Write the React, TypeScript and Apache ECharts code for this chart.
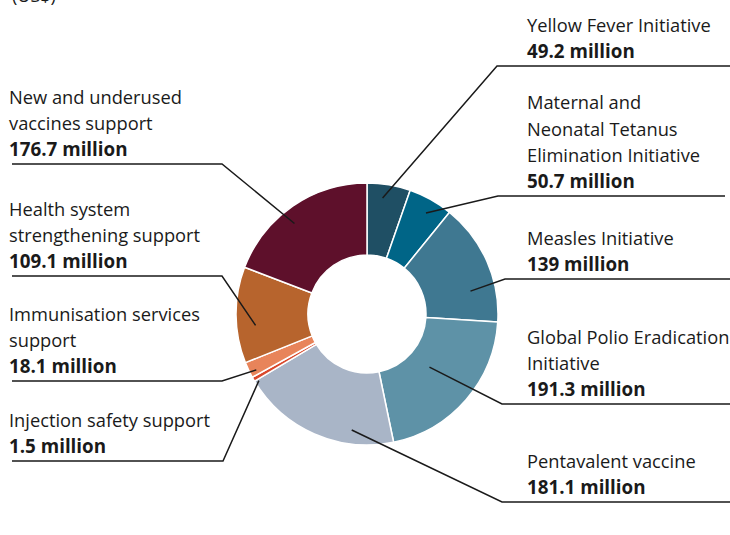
import React, { useEffect, useRef } from "react";
import * as echarts from "echarts";

const categories = [
  "Yellow Fever Initiative",
  "Maternal and\nNeonatal Tetanus\nElimination Initiative",
  "Measles Initiative",
  "Global Polio Eradication\nInitiative",
  "Pentavalent vaccine",
  "Injection safety support",
  "Immunisation services\nsupport",
  "Health system\nstrengthening support",
  "New and underused\nvaccines support",
];
const values = [49.2, 50.7, 139, 191.3, 181.1, 1.5, 18.1, 109.1, 176.7];
const unitLabel = "million";
const unitNote = "(US$)";

const colors = [
  "#1f4f64",
  "#006587",
  "#3f7891",
  "#5e92a7",
  "#a9b5c7",
  "#d9482c",
  "#e8845a",
  "#b7642d",
  "#5e102b",
];

// label layout (positions only)
const labelLayouts = [
  { side: "right", lineY: 66, elbowX: 497, endX: 730, angleOffset: -2, anchorR: 117 },
  { side: "right", lineY: 196, elbowX: 498, endX: 725, angleOffset: 1, anchorR: 117 },
  { side: "right", lineY: 279, elbowX: 505, endX: 730, angleOffset: 11, anchorR: 106 },
  { side: "right", lineY: 404, elbowX: 502, endX: 730, angleOffset: -1, anchorR: 82 },
  { side: "right", lineY: 502, elbowX: 502, endX: 730, angleOffset: -17, anchorR: 117 },
  { side: "left", lineY: 461, elbowX: 223, endX: 12, angleOffset: -2, anchorR: 127 },
  { side: "left", lineY: 381, elbowX: 222, endX: 12, angleOffset: -1, anchorR: 124 },
  { side: "left", lineY: 276, elbowX: 222, endX: 12, angleOffset: -5, anchorR: 112 },
  { side: "left", lineY: 164, elbowX: 222, endX: 12, angleOffset: -4, anchorR: 116 },
];

const CX = 367;
const CY = 314;
const FONT = "'Open Sans'";
const TEXT_COLOR = "#1a1a1a";

export default function App() {
  const ref = useRef<HTMLDivElement>(null);
  useEffect(() => {
    if (!ref.current) return;
    const chart = echarts.init(ref.current, null, { renderer: "svg" });
    const total = values.reduce((a, b) => a + b, 0);
    const cum: number[] = [];
    let acc = 0;
    values.forEach((v) => {
      cum.push(acc + v / 2);
      acc += v;
    });
    const data = categories.map((name, i) => ({
      name,
      value: values[i],
      itemStyle: { color: colors[i] },
    }));
    const common = {
      type: "pie",
      center: [CX, CY],
      radius: [59, 131],
      startAngle: 90,
      clockwise: true,
      minAngle: 2,
      avoidLabelOverlap: false,
      emphasis: { disabled: true },
      silent: true,
    };

    chart.setOption({
      animation: false,
      backgroundColor: "#ffffff",
      graphic: [
        {
          type: "text",
          left: 12,
          top: -14,
          style: {
            text: unitNote,
            font: `18px ${FONT}`,
            fill: TEXT_COLOR,
          },
        },
      ],
      series: [
        {
          ...common,
          z: 2,
          itemStyle: { borderColor: "#ffffff", borderWidth: 1.5 },
          data,
          label: { show: false },
          labelLine: { show: false },
        },
        {
          ...common,
          z: 4,
          itemStyle: { color: "rgba(0,0,0,0)", borderWidth: 0 },
          data: data.map((d) => ({ name: d.name, value: d.value, itemStyle: { color: "rgba(0,0,0,0)" } })),
          label: {
            show: true,
            position: "outside",
            formatter: (p: any) => {
              const lines = String(p.name)
                .split("\n")
                .map((l: string) => `{n|${l}}`);
              lines.push(`{b|${p.value} ${unitLabel}}`);
              return lines.join("\n");
            },
            rich: {
              n: {
                fontFamily: FONT,
                fontSize: 18.3,
                color: TEXT_COLOR,
                lineHeight: 26.3,
              },
              b: {
                fontFamily: FONT,
                fontSize: 18.8,
                fontWeight: "bold",
                color: TEXT_COLOR,
                lineHeight: 26.3,
              },
            },
          },
          labelLine: {
            show: true,
            smooth: false,
            lineStyle: { color: TEXT_COLOR, width: 1.5 },
          },
          labelLayout: (params: any) => {
            const i = params.dataIndex;
            const L = labelLayouts[i];
            const ang = ((cum[i] / total) * 360 + L.angleOffset) * (Math.PI / 180);
            const ax = CX + L.anchorR * Math.sin(ang);
            const ay = CY - L.anchorR * Math.cos(ang);
            return {
              x: L.side === "right" ? 527 : 9,
              y: L.lineY - 2,
              align: "left",
              verticalAlign: "bottom",
              labelLinePoints: [
                [ax, ay],
                [L.elbowX, L.lineY],
                [L.endX, L.lineY],
              ],
            };
          },
        },
      ],
    });
    return () => chart.dispose();
  }, []);
  return (
    <div
      ref={ref}
      style={{ position: "absolute", left: 0, top: 0, width: 730, height: 535 }}
    />
  );
}
